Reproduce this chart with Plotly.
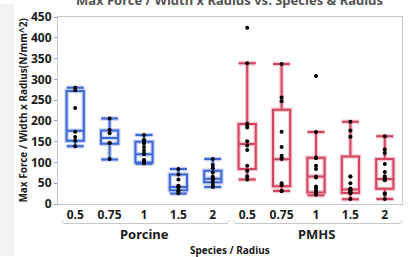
import plotly.graph_objects as go

# ---------------- data ----------------
species = ["Porcine", "PMHS"]
radius = ["0.5", "0.75", "1", "1.5", "2"]

# precomputed box statistics, one list per species
porcine_q1 = [152, 145, 100, 33, 52.6]
porcine_median = [176, 159, 119.5, 41, 60.5]
porcine_q3 = [272, 177, 150, 71, 80]
porcine_low = [139, 107, 97, 25, 41]
porcine_high = [280, 206, 166, 84, 108]

pmhs_q1 = [84, 43, 27.5, 26.6, 36.5]
pmhs_median = [144.5, 107.6, 66, 34.6, 60]
pmhs_q3 = [192.5, 227, 111.5, 114.5, 108]
pmhs_low = [59, 31, 21, 11.5, 12]
pmhs_high = [339, 337, 173, 198, 163]

# individual observations
porcine_points = {
    "0.5": [280, 274, 231, 174, 161, 152, 139],
    "0.75": [206, 178, 170, 147, 147, 108],
    "1": [166, 154, 153, 146, 137, 129, 121, 120, 106, 105, 104, 103, 100, 98],
    "1.5": [84, 71, 59, 44, 42, 40, 33, 30, 26],
    "2": [108, 94, 86, 76, 66, 61, 60, 60, 59, 52, 46, 41],
}
pmhs_points = {
    "0.5": [424, 339, 193, 190, 184, 151, 141, 130, 92, 80, 66, 59],
    "0.75": [337, 256, 247, 174, 137, 116, 111, 108, 50, 45, 31, 31],
    "1": [308, 173, 112, 110, 92, 84, 66, 64, 42, 37, 31, 30, 25, 22],
    "1.5": [198, 177, 162, 66, 66, 50, 37, 35, 33, 30, 28, 27, 26, 12],
    "2": [163, 131, 123, 96, 77, 67, 62, 60, 59, 57, 25, 24, 12],
}

y_ticks = [0, 50, 100, 150, 200, 250, 300, 350, 400, 450]

# ---------------- styles ----------------
BLUE = "#3f68d6"
BLUE_HALO = "rgba(63,104,214,0.30)"
RED = "#d4465f"
RED_HALO = "rgba(212,70,95,0.30)"
FONT = "Noto Sans"

def keys(sp):
    return [f"{sp} {r}" for r in radius]

all_keys = keys(species[0]) + keys(species[1])

fig = go.Figure()

stats = [
    (species[0], BLUE, BLUE_HALO, porcine_q1, porcine_median, porcine_q3, porcine_low, porcine_high, porcine_points),
    (species[1], RED, RED_HALO, pmhs_q1, pmhs_median, pmhs_q3, pmhs_low, pmhs_high, pmhs_points),
]

for sp, col, halo, q1, med, q3, lo, hi, pts in stats:
    for c, w in [(halo, 4.5), (col, 2)]:
        fig.add_trace(go.Box(
            x=keys(sp), q1=q1, median=med, q3=q3, lowerfence=lo, upperfence=hi,
            boxpoints=False, fillcolor="rgba(0,0,0,0)",
            line=dict(color=c, width=w), whiskerwidth=1, width=0.5,
            showlegend=False, hoverinfo="skip",
        ))

for sp, col, halo, q1, med, q3, lo, hi, pts in stats:
    xs, ys = [], []
    for r in radius:
        for v in pts[r]:
            xs.append(f"{sp} {r}")
            ys.append(v)
    fig.add_trace(go.Scatter(
        x=xs, y=ys, mode="markers",
        marker=dict(color="black", size=4),
        showlegend=False, hoverinfo="skip",
    ))

L, R, T, B = 58, 8, 13, 53
W, H = 411, 257
pw = W - L - R
ph = H - T - B

def px_x(x):
    return (x - L) / pw

def px_y(y):
    return (H - B - y) / ph

shapes = [
    dict(type="rect", xref="paper", yref="paper", x0=px_x(0), x1=px_x(14),
         y0=px_y(H), y1=px_y(0), fillcolor="#f2f2f2", line=dict(width=0), layer="below"),
]
for x0p, x1p in [(62, 230), (234, 403)]:
    yb = px_y(224)
    yt = px_y(221)
    shapes.append(dict(
        type="path", xref="paper", yref="paper",
        path=f"M {px_x(x0p)},{yt} L {px_x(x0p+2)},{yb} L {px_x(x1p-2)},{yb} L {px_x(x1p)},{yt}",
        line=dict(color="#c4c4c4", width=1),
    ))

annotations = [
    dict(text="<b>Porcine</b>", xref="paper", yref="paper", x=px_x(145), y=px_y(235),
         showarrow=False, font=dict(family=FONT, size=13, color="#1a1a1a"), xanchor="center", yanchor="middle"),
    dict(text="<b>PMHS</b>", xref="paper", yref="paper", x=px_x(317), y=px_y(235),
         showarrow=False, font=dict(family=FONT, size=13, color="#1a1a1a"), xanchor="center", yanchor="middle"),
    dict(text="<b>Species / Radius</b>", xref="paper", yref="paper", x=px_x(231), y=px_y(251),
         showarrow=False, font=dict(family=FONT, size=10, color="#1a1a1a"), xanchor="center", yanchor="middle"),
    dict(text="<b>Max Force / Width x Radius(N/mm^2)</b>", xref="paper", yref="paper",
         x=px_x(22), y=0.5, textangle=-90,
         showarrow=False, font=dict(family=FONT, size=10, color="#1a1a1a"), xanchor="center", yanchor="middle"),
    dict(text="<b>Max Force / Width x Radius vs. Species & Radius</b>", xref="paper", yref="paper",
         x=px_x(230), y=px_y(6.5), showarrow=False,
         font=dict(family=FONT, size=13, color="#555555"), xanchor="center", yanchor="bottom"),
]

fig.update_layout(
    width=W, height=H,
    margin=dict(l=L, r=R, t=T, b=B),
    paper_bgcolor="white", plot_bgcolor="white",
    boxmode="overlay",
    shapes=shapes, annotations=annotations,
    font=dict(family=FONT, color="#1a1a1a"),
)
fig.update_xaxes(
    type="category", categoryorder="array", categoryarray=all_keys,
    tickmode="array", tickvals=all_keys, ticktext=[f"<b>{k.split(' ')[1]}</b>" for k in all_keys],
    tickfont=dict(family=FONT, size=12, color="#1a1a1a"),
    showline=True, mirror=True, linecolor="#c8c8c8", linewidth=1,
    showgrid=False, zeroline=False, ticks="", range=[-0.5, 9.5],
)
fig.update_yaxes(
    range=[0, 450], tickvals=y_ticks, ticktext=[f"<b>{v}</b>" for v in y_ticks],
    tickfont=dict(family=FONT, size=12, color="#1a1a1a"),
    showline=True, mirror=True, linecolor="#c8c8c8", linewidth=1,
    showgrid=False, zeroline=False, ticks="outside", ticklen=3, tickcolor="#a0a0a0",
)

fig.write_html(
    "out.html",
    config={"displayModeBar": False},
    post_script="document.body.style.margin='0';document.body.style.overflow='hidden';",
)
